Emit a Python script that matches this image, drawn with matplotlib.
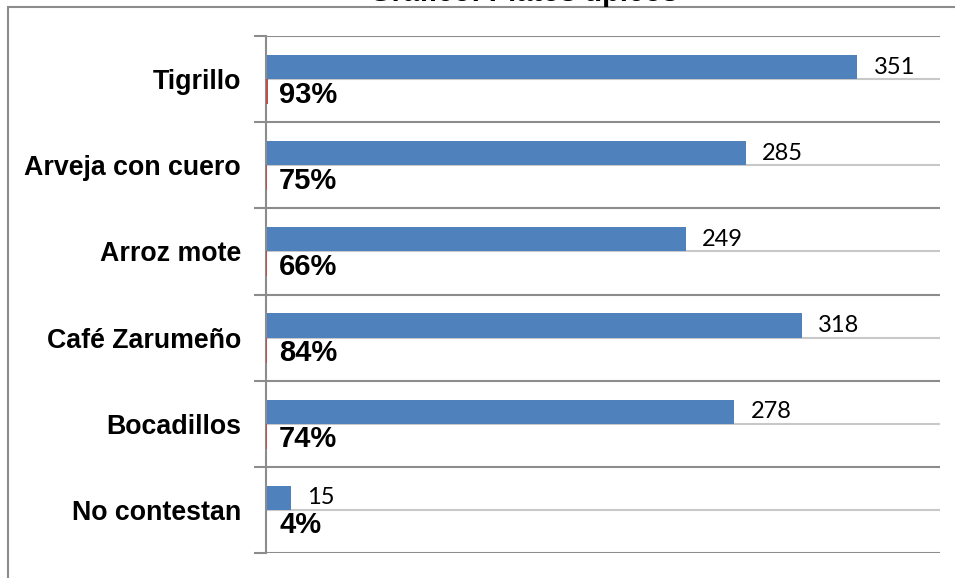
import matplotlib
matplotlib.use('Agg')
import matplotlib.pyplot as plt
from matplotlib.patches import Rectangle
import numpy as np

categorias = ['Tigrillo', 'Arveja con cuero', 'Arroz mote', 'Café Zarumeño',
              'Bocadillos', 'No contestan']
cantidad = [351, 285, 249, 318, 278, 15]
porcentaje = [0.93, 0.75, 0.66, 0.84, 0.74, 0.04]
etiquetas_pct = ['93%', '75%', '66%', '84%', '74%', '4%']
titulo = 'Gráfico: Platos típicos'

fig = plt.figure(figsize=(9.55, 5.78), dpi=100)
ax = fig.add_axes([266/955, 25/578, 674/955, 517/578])

y = np.arange(len(categorias))
# barras de cantidad (azul) y porcentaje (rojo, casi invisible)
ax.barh(y + 0.36, cantidad, height=0.28, color='#4f81bd', zorder=3)
ax.barh(y + 0.645, porcentaje, height=0.29, color='#c0504d', zorder=6)

for i in range(len(categorias)):
    ax.annotate(str(cantidad[i]), (cantidad[i], i + 0.36), xytext=(16, 0),
                textcoords='offset pixels', va='center', ha='left',
                fontsize=17, family='Lato', color='black', zorder=4)
    ax.annotate(etiquetas_pct[i], (0, i + 0.68), xytext=(13, 0),
                textcoords='offset pixels', va='center', ha='left',
                fontsize=21, family='Liberation Sans', fontweight='bold',
                color='black', zorder=4)

ax.set_xlim(0, 400)
ax.set_ylim(len(categorias), 0)
ax.set_xticks([])

ax.set_yticks(np.arange(len(categorias) + 1))
ax.set_yticklabels([])
ax.set_yticks(y + 0.5, minor=True)
ax.set_yticklabels(categorias, minor=True, fontsize=19.3, fontweight='bold',
                   family='Liberation Sans')
ax.tick_params(axis='y', which='major', length=9, width=1.5, color='#8c8c8c',
               direction='out')
ax.tick_params(axis='y', which='minor', length=0, pad=18)

ax.grid(axis='y', which='major', color='#8c8c8c', linewidth=1.5, zorder=1)
ax.grid(axis='y', which='minor', color='#c8c8c8', linewidth=1.5, zorder=1)

for s in ['top', 'right', 'bottom']:
    ax.spines[s].set_visible(False)
ax.spines['left'].set_color('#8c8c8c')
ax.spines['left'].set_linewidth(1.5)
ax.spines['left'].set_zorder(5)

# borde del area del grafico
fig.patches.append(Rectangle((8/955, -0.1), 2, 0.1 + 571/578, fill=False,
                             edgecolor='#8c8c8c', linewidth=1.5,
                             transform=fig.transFigure, figure=fig))

fig.text(524/955, 1 - 1.2/578, titulo, ha='center', va='baseline',
         fontsize=21, fontweight='bold', family='Liberation Sans')

fig.savefig('out.png', dpi=100)
